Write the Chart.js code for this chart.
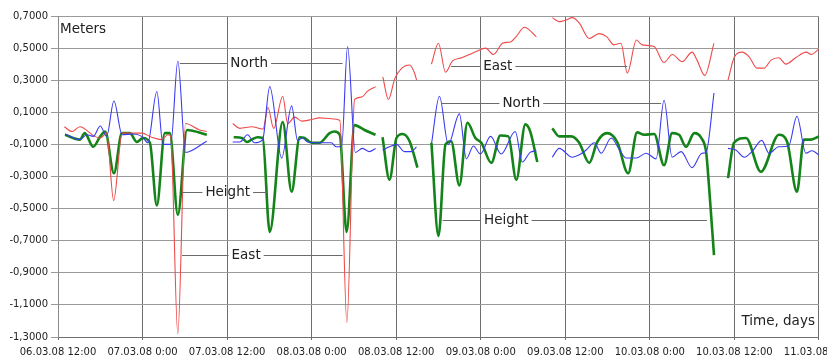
<!DOCTYPE html>
<html><head><meta charset="utf-8">
<script src="https://cdn.jsdelivr.net/npm/chart.js@4"></script>
<style>
html,body{margin:0;padding:0;overflow:hidden;background:#fff;width:827px;height:358px}
#wrap{position:absolute;left:0;top:0;width:860px;height:358px}
</style>
</head><body><div id="wrap"><canvas id="c"></canvas></div>
<script>
// hours since 06.03.08 12:00, value in meters; null = gap in the record
const tickLabels = ['06.03.08 12:00','07.03.08 0:00','07.03.08 12:00','08.03.08 0:00','08.03.08 12:00','09.03.08 0:00','09.03.08 12:00','10.03.08 0:00','10.03.08 12:00','11.03.08 0:00'];

const eastPoints = [
 [0.9,0.01],[2.0,-0.02],[3.1,0.01],[5.2,-0.05],[6.0,-0.06],[6.9,-0.03],[7.9,-0.45],[9.1,-0.03],[10.6,-0.03],[11.9,-0.03],[13.3,-0.055],[14.7,-0.07],[15.6,-0.04],[16.0,-0.05],[17.0,-1.28],[18.1,0.03],[20.1,-0.01],[21.1,-0.02],
 null,
 [24.8,0.03],[25.8,0.0],[27.5,0.01],[28.6,0.0],[29.1,-0.005],[29.8,0.13],[30.6,0.0],[31.9,0.20],[32.6,0.03],[33.6,0.07],[34.6,0.045],[36.0,0.055],[37.1,0.065],[38.8,0.06],[40.0,0.05],[41.0,-1.21],[42.1,0.18],[43.1,0.195],[43.9,0.23],[45.1,0.26],
 null,
 [46.1,0.32],[46.9,0.18],[47.8,0.31],[48.8,0.375],[49.9,0.395],[50.6,0.345],[50.9,0.30],
 null,
 [53.0,0.40],[54.0,0.53],[55.0,0.35],[56.0,0.42],[57.3,0.44],[58.4,0.46],[59.4,0.48],[60.7,0.50],[61.8,0.46],[63.1,0.53],[64.3,0.54],[65.0,0.57],[66.2,0.63],[67.9,0.57],
 null,
 [70.15,0.69],[71.15,0.665],[72.1,0.675],[73.0,0.69],[74.0,0.655],[75.4,0.56],[76.8,0.59],[77.9,0.57],[78.9,0.52],[79.9,0.53],[80.8,0.345],[82.1,0.55],[82.9,0.52],[84.6,0.51],[86.0,0.41],[87.2,0.46],[88.6,0.415],[90.0,0.475],[90.7,0.425],[91.8,0.33],[93.1,0.53],
 null,
 [95.1,0.30],[96.0,0.445],[97.1,0.475],[98.1,0.445],[99.2,0.375],[100.2,0.375],[101.2,0.425],[102.3,0.44],[103.3,0.40],[104.7,0.44],[106.2,0.475],[106.9,0.46],[108,0.495]
];

const northPoints = [
 [0.99,-0.035],[3.1,-0.07],[4.1,-0.04],[5.0,-0.05],[6.0,0.015],[6.9,-0.05],[7.94,0.17],[9.1,-0.04],[10.6,-0.035],[11.9,-0.05],[12.75,-0.09],[14.03,0.23],[14.9,-0.1],[16.0,-0.1],[17.01,0.42],[18.1,-0.15],[21.1,-0.08],
 null,
 [24.8,-0.085],[25.8,-0.085],[26.9,-0.04],[27.9,-0.09],[29.05,-0.07],[30.05,0.26],[31.75,-0.185],[33.16,0.14],[34.0,-0.075],[34.7,-0.06],[35.4,-0.085],[37.1,-0.09],[38.8,-0.09],[39.5,-0.115],[40.25,-0.115],[41.1,0.51],[42.2,-0.15],[43.2,-0.125],[44.2,-0.145],[45.07,-0.125],
 null,
 [46.06,-0.135],[47.05,-0.115],[48.04,-0.10],[49.18,-0.145],[50.17,-0.145],[50.88,-0.115],
 null,
 [53.0,-0.10],[54.14,0.20],[55.4,-0.10],[56.97,0.09],[57.96,-0.19],[58.96,-0.11],[59.95,-0.16],[61.4,-0.05],[62.9,-0.16],[64.9,-0.02],[65.9,-0.21],[67.0,-0.15],[67.9,-0.14],
 null,
 [70.15,-0.18],[71.15,-0.125],[72.99,-0.18],[74.0,-0.165],[74.97,-0.135],[76.11,-0.09],[77.1,-0.155],[78.51,-0.06],[79.65,-0.13],[80.64,-0.185],[82.06,-0.185],[83.48,-0.155],[84.89,-0.19],[86.02,0.175],[87.16,-0.18],[88.44,-0.145],[89.99,-0.245],[91.4,-0.155],[91.98,-0.15],[93.11,0.22],
 null,
 [95.1,-0.125],[96.2,-0.135],[97.4,-0.18],[98.5,-0.145],[99.9,-0.075],[100.9,-0.155],[102.3,-0.115],[103.7,-0.11],[104.88,0.075],[106.15,-0.155],[107.0,-0.14],[108,-0.165]
];

const heightPoints = [
 [0.99,-0.04],[3.1,-0.07],[3.8,-0.03],[5.0,-0.115],[6.0,-0.05],[6.7,-0.02],[7.94,-0.28],[9.07,-0.03],[10.2,-0.03],[11.2,-0.085],[12.05,-0.06],[13.04,-0.09],[14.03,-0.48],[15.16,-0.03],[15.87,-0.03],[17.01,-0.54],[18.3,-0.01],[21.12,-0.04],
 null,
 [24.94,-0.055],[26.1,-0.06],[26.8,-0.085],[27.5,-0.07],[28.3,-0.055],[29.05,-0.06],[30.05,-0.645],[31.89,0.04],[33.16,-0.395],[34.3,-0.055],[35.0,-0.06],[36.0,-0.09],[37.1,-0.09],[38.55,-0.03],[39.26,-0.02],[40.0,-0.04],[40.96,-0.645],[42.09,0.02],[43.5,-0.01],[45.07,-0.04],
 null,
 [46.06,-0.055],[47.05,-0.32],[48.04,-0.06],[48.9,-0.035],[49.9,-0.08],[51.02,-0.245],
 null,
 [53.0,-0.09],[54.0,-0.67],[55.0,-0.10],[55.8,-0.08],[56.97,-0.355],[58.11,0.035],[59.24,-0.06],[60.09,-0.09],[61.5,-0.215],[62.78,-0.045],[63.92,-0.05],[65.05,-0.32],[66.33,0.025],[67.03,-0.02],[68.03,-0.21],
 null,
 [70.15,0.0],[71.15,-0.05],[72.85,-0.05],[73.98,-0.09],[75.4,-0.215],[76.53,-0.085],[77.95,-0.03],[79.37,-0.085],[80.92,-0.28],[82.2,-0.025],[83.19,-0.04],[84.61,-0.035],[86.02,-0.23],[87.16,-0.03],[88.15,-0.04],[89.14,-0.115],[90.3,-0.03],[91.3,-0.06],[92.0,-0.15],[92.4,-0.36],[93.11,-0.79],
 null,
 [95.1,-0.31],[95.95,-0.09],[97.65,-0.06],[99.77,-0.27],[102.32,-0.04],[103.46,-0.08],[104.88,-0.395],[105.87,-0.07],[106.9,-0.07],[108,-0.05]
];

// callout labels: text, anchor (hours, meters) and leader line extent (hours)
const notes = [
 {text:'North',  x:27.14, y:0.407,  from:17.3, to:40.4},
 {text:'Height', x:24.09, y:-0.397, from:17.6, to:29.8},
 {text:'East',   x:26.7,  y:-0.789, from:17.6, to:40.4},
 {text:'East',   x:62.43, y:0.388,  from:55.8, to:80.8},
 {text:'North',  x:65.76, y:0.161,  from:54.4, to:85.6},
 {text:'Height', x:63.63, y:-0.568, from:54.6, to:92.1}
];

function toXY(points){
  const out = [];
  let last = 0;
  for (const p of points){
    if (p === null){ out.push({x:last+0.5, y:null}); }
    else { out.push({x:p[0], y:p[1]}); last = p[0]; }
  }
  return out;
}

Chart.defaults.font.family = '"DejaVu Sans", Verdana, sans-serif';
Chart.defaults.color = '#222';

const annot = {
  id:'annot',
  afterDatasetsDraw(chart){
    const {ctx, chartArea:a, scales} = chart;
    const xs = scales.x, ys = scales.y;
    ctx.save();
    ctx.font = '13.5px "DejaVu Sans"';
    ctx.fillStyle = '#222';
    ctx.textBaseline = 'middle';
    ctx.textAlign = 'left';
    ctx.fillText('Meters', a.left + 2, a.top + 13);
    ctx.textAlign = 'right';
    ctx.fillText('Time, days', a.right - 4, a.bottom - 16);
    ctx.textAlign = 'center';
    ctx.strokeStyle = '#6a6a6a';
    ctx.lineWidth = 1;
    for (const n of notes){
      const cx = xs.getPixelForValue(n.x);
      const cy = Math.round(ys.getPixelForValue(n.y)) + 0.5;
      const w = ctx.measureText(n.text).width;
      const x0 = xs.getPixelForValue(n.from), x1 = xs.getPixelForValue(n.to);
      ctx.beginPath();
      ctx.moveTo(x0, cy); ctx.lineTo(cx - w/2 - 3, cy);
      ctx.moveTo(cx + w/2 + 3, cy); ctx.lineTo(x1, cy);
      ctx.stroke();
      ctx.fillText(n.text, cx, cy);
    }
    ctx.restore();
  }
};

new Chart(document.getElementById('c'), {
  type:'line',
  data:{
    datasets:[
      {label:'North', data:toXY(northPoints), borderColor:'#3a3af0', borderWidth:1.1, order:0},
      {label:'East', data:toXY(eastPoints), borderColor:'#ee4a4a', borderWidth:1.1, order:1},
      {label:'Height', data:toXY(heightPoints), borderColor:'#14841a', borderWidth:2.6, order:2}
    ]
  },
  options:{
    responsive:true, maintainAspectRatio:false, animation:false,
    layout:{padding:{top:16, left:0, right:0, bottom:0}},
    elements:{point:{radius:0}, line:{cubicInterpolationMode:'monotone', fill:false}},
    spanGaps:false,
    plugins:{legend:{display:false}, tooltip:{enabled:false}},
    scales:{
      x:{type:'linear', min:0, max:108,
         grid:{color:'#6e6e6e', tickLength:3, lineWidth:1},
         border:{color:'#6e6e6e'},
         afterFit:(s)=>{ s.height = 21; },
         ticks:{stepSize:12, autoSkip:false, maxRotation:0, minRotation:0, padding:6,
                font:{size:10}, color:'#222',
                callback:(v)=>tickLabels[Math.round(v/12)]}},
      y:{min:-1.3, max:0.7,
         grid:{color:'#9a9a9a', tickLength:7, lineWidth:1},
         border:{color:'#8a8a8a'},
         afterFit:(s)=>{ s.width = 58; },
         ticks:{stepSize:0.2, padding:3, font:{size:10}, color:'#222',
                callback:(v)=>v.toFixed(4).replace('.',',')}}
    }
  },
  plugins:[annot]
});
</script></body></html>
